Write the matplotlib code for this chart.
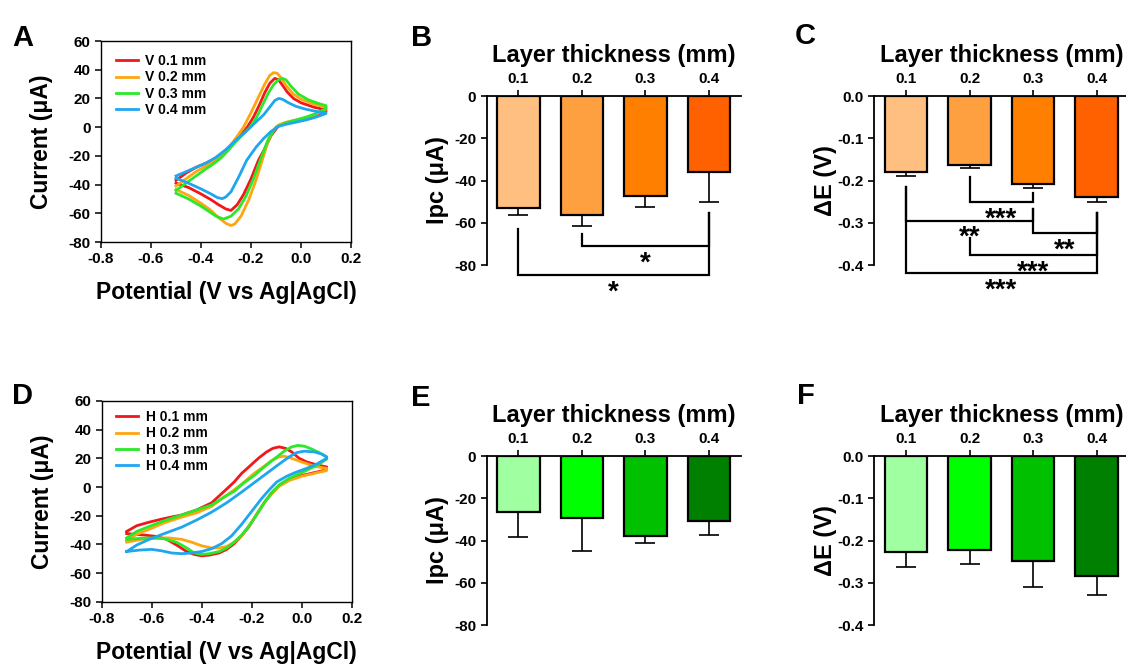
import matplotlib
matplotlib.use('Agg')
import matplotlib.pyplot as plt
import numpy as np

plt.rcParams['font.family'] = ['Liberation Sans', 'DejaVu Sans']
plt.rcParams['font.weight'] = 'bold'
plt.rcParams['axes.labelweight'] = 'bold'
plt.rcParams['axes.unicode_minus'] = False

# ---------------- data ----------------
# cyclic voltammograms, (potential V, current uA), forward branch then reverse branch
v01 = [(-0.50, -37), (-0.46, -32), (-0.42, -28), (-0.38, -25), (-0.35, -22.5), (-0.32, -19),
       (-0.30, -16.5), (-0.27, -11), (-0.24, -5.5), (-0.215, 0), (-0.19, 7), (-0.165, 16),
       (-0.145, 24), (-0.125, 30.5), (-0.105, 34), (-0.09, 33), (-0.075, 29.5), (-0.055, 24.5),
       (-0.03, 20), (0.00, 17), (0.05, 14), (0.10, 12),
       (0.10, 11), (0.06, 8), (0.02, 6), (-0.02, 4.5), (-0.06, 3), (-0.09, 1), (-0.12, -6),
       (-0.145, -15), (-0.17, -23), (-0.20, -36), (-0.23, -47), (-0.255, -54), (-0.28, -58),
       (-0.30, -57), (-0.33, -54), (-0.36, -50.5), (-0.40, -46.5), (-0.45, -42), (-0.50, -39)]
v02 = [(-0.50, -41), (-0.46, -36), (-0.42, -31), (-0.38, -27), (-0.35, -24), (-0.32, -20.5),
       (-0.29, -14.5), (-0.26, -7.5), (-0.23, 0), (-0.20, 10), (-0.17, 21), (-0.145, 30),
       (-0.125, 36), (-0.11, 38), (-0.095, 37.5), (-0.08, 34.5), (-0.06, 29), (-0.03, 23),
       (0.00, 19.5), (0.05, 16), (0.10, 14),
       (0.10, 12.5), (0.06, 9), (0.02, 6.5), (-0.02, 5), (-0.06, 3.5), (-0.09, 1.5), (-0.11, -2),
       (-0.13, -9), (-0.155, -23), (-0.18, -37), (-0.21, -51), (-0.24, -62), (-0.265, -67.5),
       (-0.28, -68.5), (-0.30, -67), (-0.33, -63), (-0.36, -58), (-0.40, -53), (-0.45, -47.5),
       (-0.50, -43.5)]
v03 = [(-0.50, -44), (-0.46, -39), (-0.42, -34), (-0.38, -29), (-0.35, -25.5), (-0.32, -21.5),
       (-0.29, -16), (-0.26, -10), (-0.23, -4.5), (-0.204, 0), (-0.18, 6), (-0.155, 15),
       (-0.131, 23.6), (-0.11, 29.5), (-0.09, 33), (-0.075, 34), (-0.06, 33), (-0.04, 28.5),
       (-0.01, 23), (0.03, 19), (0.07, 16.5), (0.10, 15),
       (0.10, 13), (0.06, 9.5), (0.02, 7), (-0.02, 5), (-0.06, 3), (-0.10, 0), (-0.13, -8),
       (-0.163, -23), (-0.19, -36), (-0.22, -48), (-0.25, -57), (-0.28, -62), (-0.31, -64),
       (-0.34, -62), (-0.37, -58.5), (-0.40, -55), (-0.45, -50), (-0.50, -46)]
v04 = [(-0.50, -34), (-0.46, -31), (-0.42, -28), (-0.38, -25), (-0.34, -21), (-0.30, -15.5),
       (-0.26, -9), (-0.22, -3), (-0.184, 3), (-0.15, 8.5), (-0.125, 14), (-0.105, 18.5),
       (-0.09, 20), (-0.075, 19.5), (-0.05, 17), (-0.02, 14.5), (0.02, 12.5), (0.06, 11),
       (0.10, 10),
       (0.10, 9.5), (0.06, 7), (0.02, 5), (-0.02, 3.5), (-0.06, 2), (-0.09, 0.5), (-0.12, -3),
       (-0.15, -8), (-0.18, -14), (-0.217, -23), (-0.25, -35), (-0.28, -45), (-0.30, -48.5),
       (-0.315, -49.8), (-0.335, -49), (-0.36, -46.5), (-0.40, -43), (-0.45, -39), (-0.50, -35.5)]

h01 = [(-0.70, -31), (-0.66, -27), (-0.61, -24.5), (-0.55, -22), (-0.48, -19.5), (-0.42, -16),
       (-0.36, -11), (-0.31, -3), (-0.27, 3.5), (-0.24, 9.5), (-0.205, 15), (-0.17, 20.5),
       (-0.14, 24.5), (-0.115, 27), (-0.09, 28), (-0.065, 27), (-0.04, 24.5), (-0.01, 20),
       (0.02, 17.5), (0.06, 15.5), (0.10, 14),
       (0.10, 12), (0.05, 10), (0.00, 8), (-0.05, 5.5), (-0.09, 1), (-0.12, -4), (-0.15, -11),
       (-0.18, -19), (-0.21, -27.5), (-0.24, -34), (-0.27, -39.5), (-0.30, -43.5), (-0.33, -46),
       (-0.37, -47.5), (-0.40, -48), (-0.43, -47), (-0.46, -45), (-0.50, -40.5), (-0.54, -36.5),
       (-0.58, -34.5), (-0.63, -33.5), (-0.70, -32.5)]
h02 = [(-0.70, -37.5), (-0.66, -33), (-0.61, -29.5), (-0.55, -25), (-0.48, -21), (-0.42, -18),
       (-0.36, -13.5), (-0.31, -7), (-0.27, -2), (-0.23, 3.5), (-0.19, 9.5), (-0.15, 14.5),
       (-0.12, 18.5), (-0.09, 21), (-0.07, 21.5), (-0.04, 20), (0.00, 17.5), (0.05, 14.5),
       (0.10, 13),
       (0.10, 11.5), (0.05, 9.5), (0.00, 7.5), (-0.05, 4.5), (-0.09, 0.5), (-0.12, -5),
       (-0.15, -11), (-0.18, -19), (-0.21, -27), (-0.24, -34), (-0.27, -38.5), (-0.30, -41.5),
       (-0.33, -42.5), (-0.36, -42.5), (-0.40, -41), (-0.44, -38.5), (-0.48, -36.5),
       (-0.53, -35.5), (-0.58, -35.5), (-0.64, -36.5), (-0.70, -38.5)]
h03 = [(-0.70, -35.5), (-0.66, -31), (-0.61, -27.5), (-0.55, -23.5), (-0.48, -19.5), (-0.42, -16),
       (-0.36, -12.5), (-0.31, -7), (-0.27, -3), (-0.23, 3), (-0.19, 8), (-0.15, 14), (-0.11, 19.5),
       (-0.07, 25), (-0.04, 28), (-0.015, 29), (0.01, 28.5), (0.04, 26.5), (0.07, 24), (0.10, 21),
       (0.10, 19.5), (0.07, 16), (0.03, 12.5), (0.00, 10), (-0.05, 6), (-0.09, 1.5), (-0.12, -4),
       (-0.15, -11), (-0.18, -19.5), (-0.21, -27), (-0.24, -33.5), (-0.27, -38.5), (-0.30, -42.5),
       (-0.33, -45), (-0.37, -46.5), (-0.40, -47), (-0.43, -46), (-0.46, -42.5), (-0.50, -38.5),
       (-0.55, -36), (-0.61, -35.5), (-0.66, -36), (-0.70, -36.5)]
h04 = [(-0.70, -45), (-0.66, -40.5), (-0.61, -36.5), (-0.55, -32.5), (-0.48, -28), (-0.42, -23),
       (-0.36, -17.5), (-0.30, -11), (-0.24, -3.5), (-0.19, 3), (-0.14, 9.5), (-0.09, 16),
       (-0.05, 21), (-0.02, 24), (0.01, 25), (0.05, 24.5), (0.08, 23), (0.10, 21),
       (0.10, 20), (0.06, 16), (0.02, 13), (-0.02, 10.5), (-0.06, 7.5), (-0.10, 3.5), (-0.13, -2),
       (-0.16, -8), (-0.20, -17), (-0.24, -26), (-0.28, -34), (-0.32, -39.5), (-0.36, -43),
       (-0.40, -45), (-0.44, -46), (-0.48, -46.5), (-0.52, -46), (-0.56, -44.5), (-0.60, -43.5),
       (-0.65, -44), (-0.70, -45)]

v_labels = ['V 0.1 mm', 'V 0.2 mm', 'V 0.3 mm', 'V 0.4 mm']
h_labels = ['H 0.1 mm', 'H 0.2 mm', 'H 0.3 mm', 'H 0.4 mm']

thickness = ['0.1', '0.2', '0.3', '0.4']
ipc_v = [-53.2, -56.3, -47.2, -36.1]
ipc_v_sd = [3.3, 5.1, 5.2, 13.9]
de_v = [-0.179, -0.163, -0.209, -0.238]
de_v_sd = [0.010, 0.008, 0.008, 0.014]
ipc_h = [-26.7, -29.2, -37.9, -30.8]
ipc_h_sd = [11.5, 15.8, 3.4, 6.6]
de_h = [-0.226, -0.222, -0.248, -0.284]
de_h_sd = [0.036, 0.034, 0.063, 0.045]

# significance brackets: (bar i, bar j, bracket level, left top, right top, label)
sig_ipc_v = [(1, 3, -71, -65.5, -55.2, '*'),
             (0, 3, -84.7, -63.1, -55.2, '*')]
sig_de_v = [(1, 2, -0.251, -0.192, -0.229, '***'),
            (0, 2, -0.295, -0.215, -0.268, '**'),
            (2, 3, -0.325, -0.268, -0.276, '**'),
            (1, 3, -0.376, -0.337, -0.276, '***'),
            (0, 3, -0.420, -0.215, -0.276, '***')]

CV_COLORS = ['#F01818', '#FFA510', '#2AE82A', '#1EA6EE']
ORANGES = ['#FFBF80', '#FFA040', '#FF8000', '#FF6000']
GREENS = ['#A0FFA0', '#00FF00', '#00C000', '#008000']


def cv_panel(ax, curves, labels, leg_y):
    for pts, lab, col in zip(curves, labels, CV_COLORS):
        e, i = np.array(pts).T
        ax.plot(e, i, color=col, lw=2.0, label=lab, solid_joinstyle='round')
    ax.set_xlim(-0.8, 0.2)
    ax.set_ylim(-80, 60)
    ax.set_xticks([-0.8, -0.6, -0.4, -0.2, 0.0, 0.2], ['-0.8', '-0.6', '-0.4', '-0.2', '0.0', '0.2'])
    ax.set_yticks(range(-80, 61, 20))
    ax.tick_params(labelsize=11, width=1.1, length=4, direction='out')
    for s in ax.spines.values():
        s.set_linewidth(1.0)
    ax.set_xlabel('Potential (V vs Ag|AgCl)', fontsize=16.5, labelpad=10.5)
    ax.set_ylabel('Current (μA)', fontsize=16.5, labelpad=11)
    ax.legend(loc='upper left', bbox_to_anchor=(0.058, leg_y), frameon=False, fontsize=10,
              handlelength=1.6, handletextpad=0.55, labelspacing=0.17, borderaxespad=0,
              borderpad=0)


def bar_panel(ax, means, sds, colors, ylim, yticks, ylabels, ylabel, ypad):
    x = np.arange(len(thickness))
    ax.errorbar(x, means, yerr=[sds, np.zeros(len(sds))], fmt='none', ecolor='black',
                elinewidth=1.2, capsize=7.5, capthick=1.2, zorder=1)
    ax.bar(x, means, width=0.67, color=colors, edgecolor='black', linewidth=1.6, zorder=2)
    ax.set_xlim(-0.5, 3.5)
    ax.set_ylim(*ylim)
    ax.xaxis.tick_top()
    ax.xaxis.set_label_position('top')
    ax.set_xticks(x, thickness)
    ax.set_yticks(yticks, ylabels)
    ax.spines[['bottom', 'right']].set_visible(False)
    for s in ('top', 'left'):
        ax.spines[s].set_linewidth(1.3)
    ax.tick_params(labelsize=11, width=1.2, length=4, direction='out')
    ax.set_xlabel('Layer thickness (mm)', fontsize=17, labelpad=7)
    ax.set_ylabel(ylabel, fontsize=17, labelpad=ypad)


def brackets(ax, sig):
    for i, j, y, ytop_i, ytop_j, lab in sig:
        ax.plot([i, i, j, j], [ytop_i, y, y, ytop_j], color='black', lw=1.6,
                clip_on=False, solid_joinstyle='miter')
        ax.annotate(lab, xy=((i + j) / 2, y), xytext=(0, -3.2), textcoords='offset points',
                    ha='center', va='top', fontsize=20, fontweight='bold',
                    annotation_clip=False)


fig = plt.figure(figsize=(11.26, 6.64), dpi=100)

axA = fig.add_axes([0.0897, 0.6355, 0.2220, 0.3027])
axD = fig.add_axes([0.0903, 0.0938, 0.2220, 0.3023])
axB = fig.add_axes([0.4322, 0.6009, 0.2256, 0.2545])
axC = fig.add_axes([0.7765, 0.6009, 0.2256, 0.2545])
axE = fig.add_axes([0.4322, 0.0587, 0.2256, 0.2545])
axF = fig.add_axes([0.7765, 0.0587, 0.2256, 0.2545])

cv_panel(axA, [v01, v02, v03, v04], v_labels, 0.935)
cv_panel(axD, [h01, h02, h03, h04], h_labels, 0.955)

ipc_ticks = [0, -20, -40, -60, -80]
ipc_ticklabels = ['0', '-20', '-40', '-60', '-80']
de_ticks = [0.0, -0.1, -0.2, -0.3, -0.4]
de_ticklabels = ['0.0', '-0.1', '-0.2', '-0.3', '-0.4']

bar_panel(axB, ipc_v, ipc_v_sd, ORANGES, (-80, 0), ipc_ticks, ipc_ticklabels, 'Ipc (μA)', 4)
bar_panel(axC, de_v, de_v_sd, ORANGES, (-0.4, 0), de_ticks, de_ticklabels, 'ΔE (V)', 0.5)
bar_panel(axE, ipc_h, ipc_h_sd, GREENS, (-80, 0), ipc_ticks, ipc_ticklabels, 'Ipc (μA)', 4)
bar_panel(axF, de_h, de_h_sd, GREENS, (-0.4, 0), de_ticks, de_ticklabels, 'ΔE (V)', 0.5)

brackets(axB, sig_ipc_v)
brackets(axC, sig_de_v)

for lab, x, y in [('A', 12, 24), ('B', 411, 24), ('C', 795, 22),
                  ('D', 12, 382), ('E', 411, 384), ('F', 797, 382)]:
    fig.text(x / 1126, 1 - y / 664, lab, fontsize=21, fontweight='bold', ha='left', va='top')

fig.savefig('out.png', dpi=100, facecolor='white')
